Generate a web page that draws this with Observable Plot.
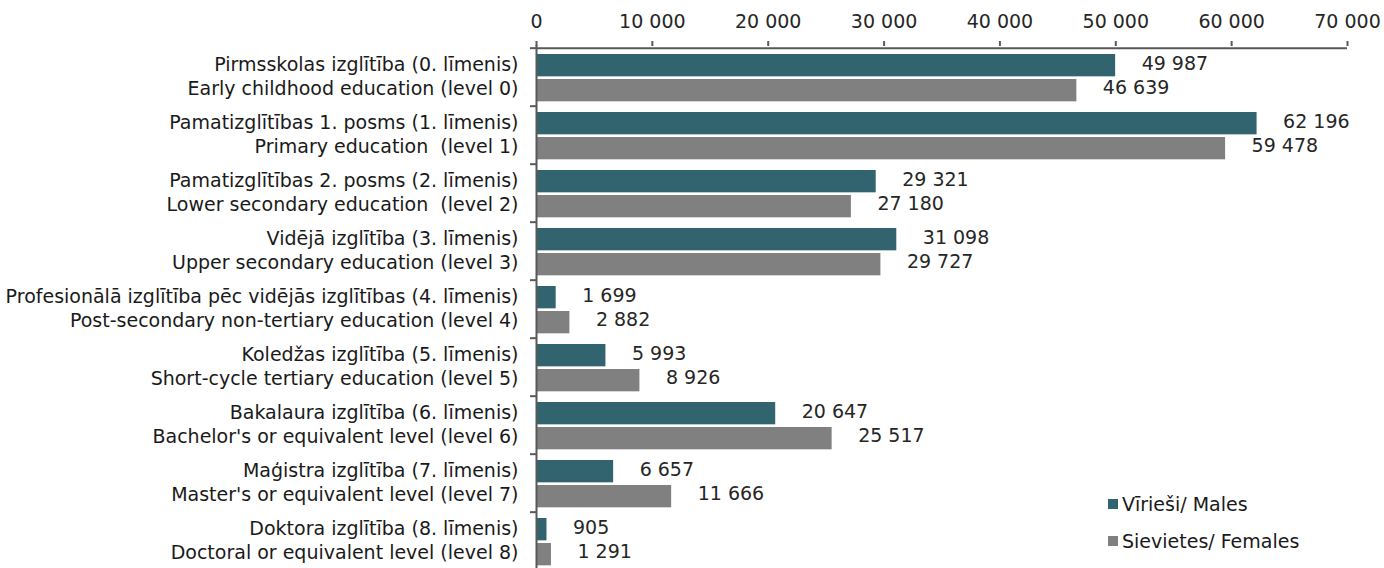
<!DOCTYPE html>
<html>
<head>
<meta charset="utf-8">
<script src="https://cdn.jsdelivr.net/npm/d3@7"></script>
<script src="https://cdn.jsdelivr.net/npm/@observablehq/plot@0.6"></script>
<style>
  html, body { margin: 0; padding: 0; overflow: hidden; background: #fff; }
  #wrap { position: relative; width: 1384px; height: 568px; font-family: "DejaVu Sans", Verdana, sans-serif; }
  #legend { position: absolute; left: 1108px; top: 491px; font-size: 19px; color: #1a1a1a; }
  #legend .row { display: flex; align-items: center; height: 26px; margin-bottom: 11px; }
  #legend .sw { width: 10px; height: 10px; margin-right: 4px; }
</style>
</head>
<body>
<div id="wrap"><div id="legend"></div></div>
<script>
const categoriesLv = [
  "Pirmsskolas izglītība (0. līmenis)",
  "Pamatizglītības 1. posms (1. līmenis)",
  "Pamatizglītības 2. posms (2. līmenis)",
  "Vidējā izglītība (3. līmenis)",
  "Profesionālā izglītība pēc vidējās izglītības (4. līmenis)",
  "Koledžas izglītība (5. līmenis)",
  "Bakalaura izglītība (6. līmenis)",
  "Maģistra izglītība (7. līmenis)",
  "Doktora izglītība (8. līmenis)"
];
const categoriesEn = [
  "Early childhood education (level 0)",
  "Primary education\u00a0 (level 1)",
  "Lower secondary education\u00a0 (level 2)",
  "Upper secondary education (level 3)",
  "Post-secondary non-tertiary education (level 4)",
  "Short-cycle tertiary education (level 5)",
  "Bachelor's or equivalent level (level 6)",
  "Master's or equivalent level (level 7)",
  "Doctoral or equivalent level (level 8)"
];
const males   = [49987, 62196, 29321, 31098, 1699, 5993, 20647, 6657, 905];
const females = [46639, 59478, 27180, 29727, 2882, 8926, 25517, 11666, 1291];
const xTicks  = [0, 10000, 20000, 30000, 40000, 50000, 60000, 70000];
const seriesNames = ["Vīrieši/ Males", "Sievietes/ Females"];
const colors = ["#31646e", "#808080"];

const fmt = d => d3.format(",")(d).replace(/,/g, " ");
const rows = categoriesLv.map((c, i) => ({cat: c, label: c + "\n" + categoriesEn[i], m: males[i], f: females[i]}));

const height = 573, marginTop = 45, marginBottom = 0;
const step = (height - marginTop - marginBottom) / categoriesLv.length;
const fs = 19;

const chart = Plot.plot({
  width: 1384,
  height,
  marginTop,
  marginBottom,
  marginLeft: 536,
  marginRight: 37,
  style: {fontFamily: "DejaVu Sans, Verdana, sans-serif", fontSize: fs + "px", color: "#262626", background: "transparent"},
  x: {domain: [0, 70000], ticks: xTicks},
  y: {domain: categoriesLv, padding: 0},
  marks: [
    Plot.barX(rows, {x: "m", y: "cat", fill: colors[0], insetTop: 6, insetBottom: step - 29}),
    Plot.barX(rows, {x: "f", y: "cat", fill: colors[1], insetTop: 31, insetBottom: step - 54}),
    Plot.text(rows, {x: "m", y: "cat", text: d => fmt(d.m), textAnchor: "start", dx: 26, dy: 15.5 - step / 2, fill: "#262626", fontSize: fs}),
    Plot.text(rows, {x: "f", y: "cat", text: d => fmt(d.f), textAnchor: "start", dx: 26, dy: 40 - step / 2, fill: "#262626", fontSize: fs}),
    Plot.text(rows, {x: 0, y: "cat", text: "label", textAnchor: "end", dx: -18, dy: -2.5, lineHeight: 24 / fs, fill: "#1a1a1a", fontSize: fs}),
    Plot.axisX({anchor: "top", ticks: xTicks, tickSize: 5, tickPadding: 13, tickFormat: fmt, label: null, stroke: "#595959", strokeWidth: 2, fill: "#262626", fontSize: fs}),
    Plot.axisY({anchor: "left", tickSize: 6, tickFormat: () => "", label: null, dy: -step / 2, stroke: "#595959", strokeWidth: 2}),
    Plot.ruleY([categoriesLv[0]], {x1: 0, x2: 70000, dy: -step / 2, stroke: "#595959", strokeWidth: 2}),
    Plot.ruleX([0], {stroke: "#595959", strokeWidth: 2})
  ]
});
document.getElementById("wrap").prepend(chart);

const legend = document.getElementById("legend");
seriesNames.forEach((name, i) => {
  const row = document.createElement("div");
  row.className = "row";
  const sw = document.createElement("span");
  sw.className = "sw";
  sw.style.background = colors[i];
  const t = document.createElement("span");
  t.textContent = name;
  row.append(sw, t);
  legend.append(row);
});
</script>
</body>
</html>
